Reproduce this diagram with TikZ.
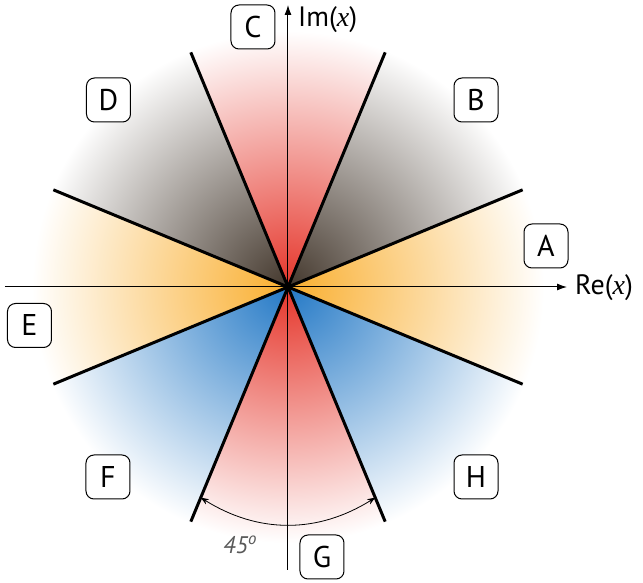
\documentclass[tikz,border=0pt]{standalone}
\usepackage{fontspec}
\setmainfont{PT Sans}
\newfontfamily\serifx{Liberation Serif}
\usetikzlibrary{arrows.meta}
\definecolor{cOr}{HTML}{F9AE2E}
\definecolor{cRd}{HTML}{E5352A}
\definecolor{cBr}{HTML}{43372C}
\definecolor{cBl}{HTML}{2479C6}
\begin{document}
\begin{tikzpicture}[x=1pt,y=1pt,
  lbl/.style={draw, line width=1pt, rounded corners=8pt, minimum width=44pt, minimum height=44pt,
    fill=white, inner sep=0pt, font=\fontsize{30}{30}\selectfont},
  axis/.style={line width=1pt, -{Latex[length=10pt,width=7pt]}},
  ray/.style={line width=3pt},
  anglearc/.style={line width=0.8pt, {Stealth[length=8pt,width=6pt]}-{Stealth[length=8pt,width=6pt]}},
  axlabel/.style={anchor=base west, inner sep=0pt, font=\fontsize{28}{28}\selectfont}
]
\useasboundingbox (-288,-296) rectangle (355,287);
\coordinate (O) at (0,0);
% shaded sectors
\foreach \a/\c in {-22.5/cOr, 22.5/cBr, 67.5/cRd, 112.5/cBr, 157.5/cOr, 202.5/cBl, 247.5/cRd, 292.5/cBl} {
  \begin{scope}
    \clip (O) -- (\a:320) arc[start angle=\a, delta angle=45, radius=320] -- cycle;
    \shade[inner color=\c, outer color=white] (O) circle (256);
  \end{scope}
}
% axes
\coordinate (xs) at (-283,0);
\coordinate (xe) at (279,0);
\coordinate (ys) at (0,-283);
\coordinate (ye) at (0,282);
\draw[axis] (xs) -- (xe);
\draw[axis] (ys) -- (ye);
% rays
\foreach \a in {22.5,67.5,112.5,157.5} {
  \draw[ray] (\a:254) -- (\a+180:254);
}
% angle arc
\coordinate (a1) at (247.5:228);
\coordinate (a2) at (292.5:228);
\draw[anglearc] (a1) to[bend right=32] (a2);
\node[anchor=base west, inner sep=0pt, font=\fontsize{24}{24}\selectfont\itshape, text=black!65] (ang) at (-65,-267) {45\textsuperscript{o}};
% axis labels
\node[axlabel] (re) at (287,-8) {Re({\serifx\itshape x})};
\node[axlabel] (im) at (10,260) {Im({\serifx\itshape x})};
% region labels
\node[lbl] (A) at (258,41) {A};
\node[lbl] (B) at (188,187) {B};
\node[lbl] (C) at (-35,260) {C};
\node[lbl] (D) at (-179.5,187) {D};
\node[lbl] (E) at (-258.5,-38.5) {E};
\node[lbl] (F) at (-180,-190) {F};
\node[lbl] (G) at (34,-270) {G};
\node[lbl] (H) at (188,-190) {H};
\end{tikzpicture}
\end{document}
